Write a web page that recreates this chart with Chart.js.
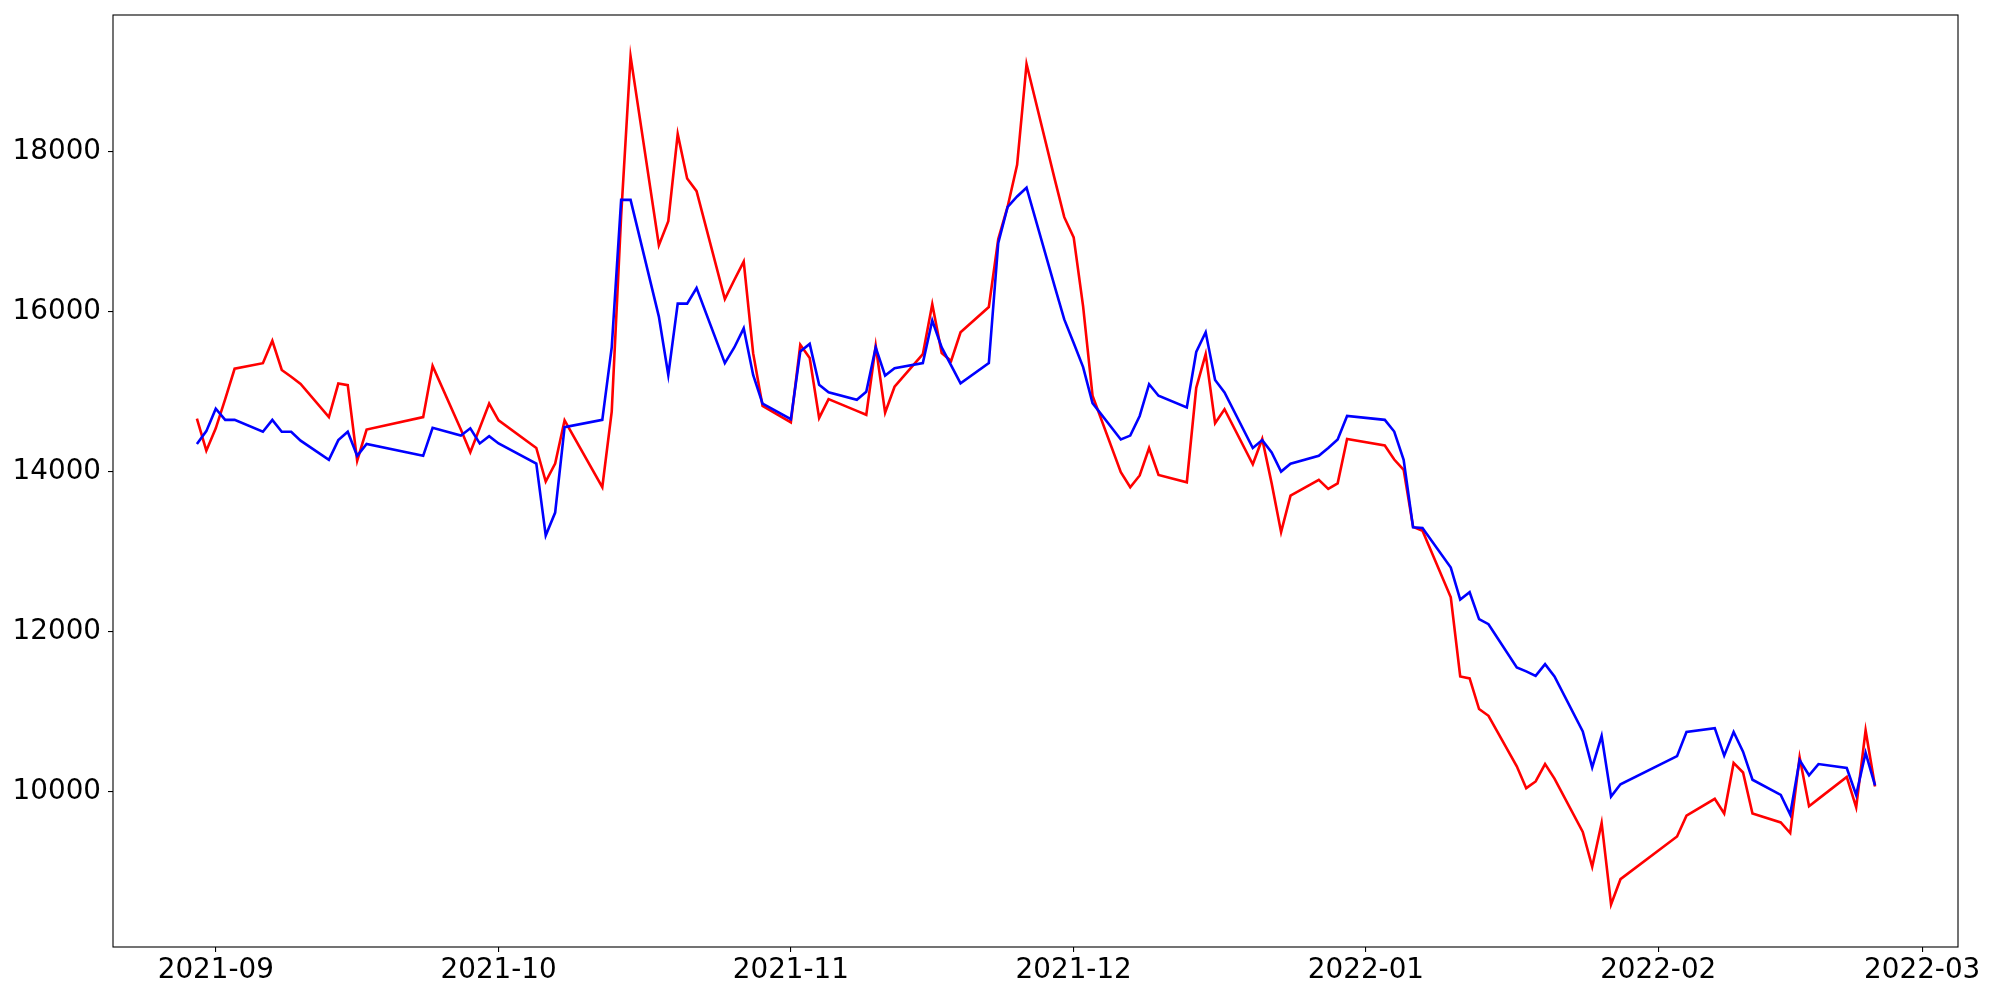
<!DOCTYPE html>
<html>
<head>
<meta charset="utf-8">
<script src="https://cdn.jsdelivr.net/npm/chart.js@4.4.1/dist/chart.umd.min.js"></script>
<style>
  html, body { margin: 0; padding: 0; background: #ffffff; }
  #wrap { width: 2000px; height: 1000px; }
</style>
</head>
<body>
<div id="wrap"><canvas id="c" width="2000" height="1000"></canvas></div>
<script>
const dates = [
  '2021-08-30','2021-08-31','2021-09-01','2021-09-02','2021-09-03','2021-09-06','2021-09-07','2021-09-08','2021-09-09','2021-09-10',
  '2021-09-13','2021-09-14','2021-09-15','2021-09-16','2021-09-17','2021-09-23','2021-09-24','2021-09-27','2021-09-28','2021-09-29',
  '2021-09-30','2021-10-01','2021-10-05','2021-10-06','2021-10-07','2021-10-08','2021-10-12','2021-10-13','2021-10-14','2021-10-15',
  '2021-10-18','2021-10-19','2021-10-20','2021-10-21','2021-10-22','2021-10-25','2021-10-26','2021-10-27','2021-10-28','2021-10-29',
  '2021-11-01','2021-11-02','2021-11-03','2021-11-04','2021-11-05','2021-11-08','2021-11-09','2021-11-10','2021-11-11','2021-11-12',
  '2021-11-15','2021-11-16','2021-11-17','2021-11-18','2021-11-19','2021-11-22','2021-11-23','2021-11-24','2021-11-25','2021-11-26',
  '2021-11-29','2021-11-30','2021-12-01','2021-12-02','2021-12-03','2021-12-06','2021-12-07','2021-12-08','2021-12-09','2021-12-10',
  '2021-12-13','2021-12-14','2021-12-15','2021-12-16','2021-12-17','2021-12-20','2021-12-21','2021-12-22','2021-12-23','2021-12-24',
  '2021-12-27','2021-12-28','2021-12-29','2021-12-30','2022-01-03','2022-01-04','2022-01-05','2022-01-06','2022-01-07','2022-01-10',
  '2022-01-11','2022-01-12','2022-01-13','2022-01-14','2022-01-17','2022-01-18','2022-01-19','2022-01-20','2022-01-21','2022-01-24',
  '2022-01-25','2022-01-26','2022-01-27','2022-01-28','2022-02-03','2022-02-04','2022-02-07','2022-02-08','2022-02-09','2022-02-10',
  '2022-02-11','2022-02-14','2022-02-15','2022-02-16','2022-02-17','2022-02-18','2022-02-21','2022-02-22','2022-02-23','2022-02-24'
];

const redSeries = [
  14660,14260,14540,14905,15285,15355,15635,15270,15185,15095,
  14680,15100,15080,14135,14525,14680,15320,14525,14240,14545,
  14850,14640,14295,13875,14100,14640,13805,14750,17200,19190,
  16830,17130,18220,17665,17505,16155,16395,16625,15480,14820,
  14615,15585,15418,14670,14905,14758,14709,15572,14737,15060,
  15467,16092,15481,15383,15741,16057,16906,17314,17835,19095,
  17650,17180,16927,16064,14948,13993,13803,13951,14294,13957,
  13866,15046,15467,14603,14779,14091,14407,13852,13242,13698,
  13895,13782,13852,14407,14325,14150,14021,13308,13260,12427,
  11437,11413,11030,10946,10314,10041,10125,10343,10160,9493,
  9058,9606,8587,8903,9437,9697,9907,9725,10357,10237,
  9725,9612,9479,10426,9816,9907,10181,9802,10763,10061
];

const blueSeries = [
  14344,14505,14786,14646,14646,14498,14646,14498,14498,14386,
  14147,14393,14498,14196,14344,14196,14547,14449,14540,14351,
  14442,14351,14098,13199,13487,14554,14646,15551,17397,17397,
  15937,15207,16099,16099,16295,15355,15551,15790,15207,14849,
  14655,15500,15596,15084,14990,14898,14997,15551,15200,15291,
  15355,15888,15551,15327,15102,15355,16857,17310,17439,17548,
  16309,15902,15607,15306,14856,14400,14449,14695,15092,14948,
  14800,15495,15741,15144,14990,14294,14393,14238,13999,14098,
  14196,14295,14400,14695,14646,14500,14147,13302,13295,12799,
  12399,12491,12154,12091,11550,11501,11445,11592,11438,10750,
  10300,10694,9935,10090,10441,10743,10792,10448,10743,10497,
  10146,9956,9711,10391,10202,10342,10293,9956,10483,10076
];

const xTickLabels = ['2021-09','2021-10','2021-11','2021-12','2022-01','2022-02','2022-03'];
const yTickValues = [10000, 12000, 14000, 16000, 18000];

const BASE = Date.UTC(2021, 8, 1);
function dayIndex(s) {
  const p = s.split('-').map(Number);
  return (Date.UTC(p[0], p[1] - 1, p[2] || 1) - BASE) / 86400000;
}
const xTickDays = xTickLabels.map(dayIndex);
const redPts = dates.map((d, i) => ({ x: dayIndex(d), y: redSeries[i] }));
const bluePts = dates.map((d, i) => ({ x: dayIndex(d), y: blueSeries[i] }));

const frame = {
  id: 'frame',
  afterDraw(chart) {
    const a = chart.chartArea, ctx = chart.ctx;
    ctx.save();
    ctx.strokeStyle = '#000000';
    ctx.lineWidth = 1.1;
    ctx.strokeRect(a.left, a.top, a.right - a.left, a.bottom - a.top);
    ctx.restore();
  }
};

const tickFont = { family: 'DejaVu Sans', size: 27.8 };

new Chart(document.getElementById('c'), {
  type: 'line',
  data: {
    datasets: [
      { data: redPts, borderColor: '#ff0000', borderWidth: 2.6, pointRadius: 0, tension: 0, fill: false, order: 1 },
      { data: bluePts, borderColor: '#0000ff', borderWidth: 2.6, pointRadius: 0, tension: 0, fill: false, order: 0 }
    ]
  },
  options: {
    responsive: false,
    animation: false,
    devicePixelRatio: 1,
    layout: { padding: { top: 15, right: 42, left: 0, bottom: 0 } },
    plugins: { legend: { display: false }, tooltip: { enabled: false }, title: { display: false } },
    scales: {
      x: {
        type: 'linear',
        min: -10.9,
        max: 184.8,
        afterFit(s) { s.height = 53; s.paddingLeft = 0; s.paddingRight = 0; },
        afterBuildTicks(s) { s.ticks = xTickDays.map(v => ({ value: v })); },
        grid: { drawOnChartArea: false, drawTicks: true, tickLength: 5, color: '#000000', lineWidth: 1.1 },
        border: { display: false },
        ticks: {
          font: tickFont, color: '#000000', padding: 2, maxRotation: 0, autoSkip: false,
          callback(v) { const i = xTickDays.indexOf(v); return i >= 0 ? xTickLabels[i] : ''; }
        }
      },
      y: {
        type: 'linear',
        min: 8055,
        max: 19708,
        afterFit(s) { s.width = 113; s.paddingTop = 0; s.paddingBottom = 0; },
        afterBuildTicks(s) { s.ticks = yTickValues.map(v => ({ value: v })); },
        grid: { drawOnChartArea: false, drawTicks: true, tickLength: 5, color: '#000000', lineWidth: 1.1 },
        border: { display: false },
        ticks: { font: tickFont, color: '#000000', padding: 7, callback(v) { return String(v); } }
      }
    }
  },
  plugins: [frame]
});
</script>
</body>
</html>
